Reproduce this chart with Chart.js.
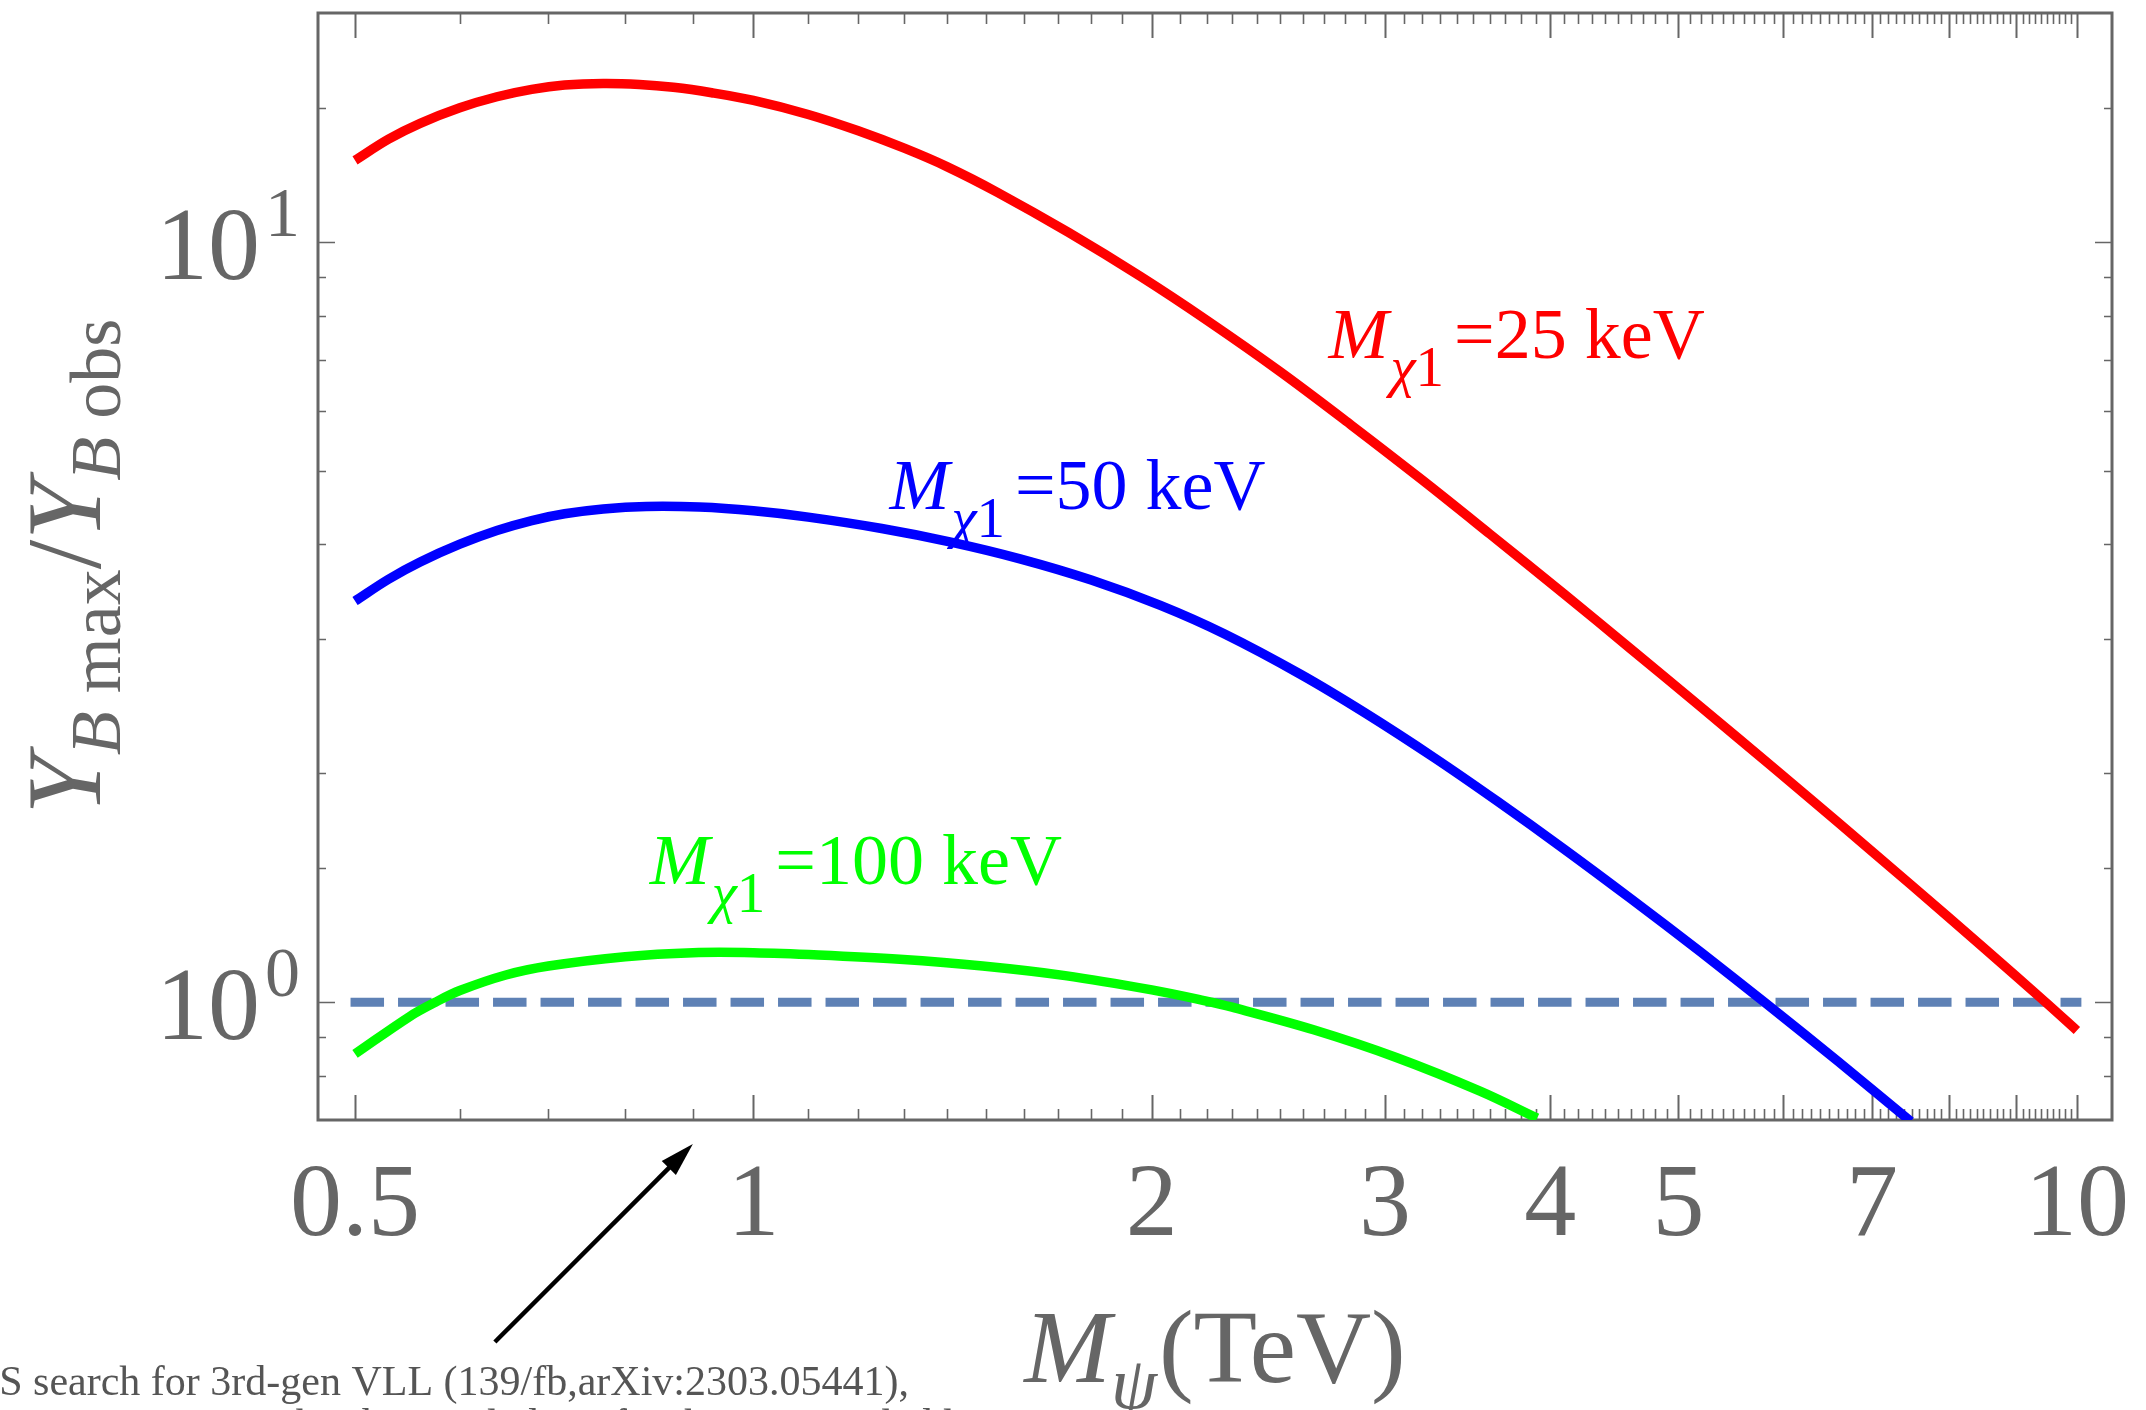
<!DOCTYPE html>
<html>
<head>
<meta charset="utf-8">
<script src="https://cdn.jsdelivr.net/npm/chart.js@4.4.1/dist/chart.umd.min.js"></script>
<style>
  html, body { margin: 0; padding: 0; background: #fff; }
  canvas { display: block; }
</style>
</head>
<body>
<canvas id="c" width="2146" height="1410"></canvas>
<script>
/* ── Data (x in TeV, y = Y_B max / Y_B obs) ── */
const redX   = [0.5, 0.53, 0.56, 0.6, 0.64, 0.68, 0.72, 0.77, 0.82, 0.87, 0.93, 1.0, 1.1, 1.2, 1.3, 1.4, 1.53, 1.73, 1.96, 2.2, 2.5, 2.83, 3.2, 3.6, 4.1, 4.6, 5.2, 5.9, 6.6, 7.5, 8.5, 9.47, 10];
const redY   = [12.8, 13.65, 14.32, 15.01, 15.52, 15.87, 16.08, 16.16, 16.11, 15.97, 15.71, 15.35, 14.71, 14.0, 13.28, 12.56, 11.61, 10.29, 9.01, 7.89, 6.75, 5.74, 4.865, 4.13, 3.44, 2.917, 2.444, 2.033, 1.724, 1.425, 1.18, 1.0, 0.918];

const blueX  = [0.5, 0.53, 0.56, 0.6, 0.64, 0.68, 0.72, 0.77, 0.83, 0.91, 1.0, 1.1, 1.25, 1.41, 1.59, 1.8, 2.03, 2.27, 2.59, 2.9, 3.27, 3.65, 4.1, 4.6, 5.2, 5.82, 6.6, 7.49];
const blueY  = [3.37, 3.6, 3.793, 4.003, 4.172, 4.3, 4.389, 4.454, 4.487, 4.479, 4.429, 4.345, 4.198, 4.029, 3.83, 3.592, 3.326, 3.05, 2.70, 2.40, 2.096, 1.837, 1.589, 1.369, 1.163, 0.997, 0.836, 0.697];

const greenX = [0.5, 0.55, 0.575, 0.6, 0.65, 0.7, 0.8, 0.9, 1.0, 1.12, 1.29, 1.49, 1.72, 2.0, 2.19, 2.3, 2.65, 3.06, 3.54, 3.91];
const greenY = [0.855, 0.958, 1.0, 1.036, 1.086, 1.116, 1.148, 1.162, 1.162, 1.154, 1.139, 1.116, 1.084, 1.038, 1.005, 0.985, 0.92, 0.846, 0.764, 0.704];

const refX   = [0.5, 10];
const refY   = [1, 1];

/* ── Axes ── */
const xMin = 0.4688, xMax = 10.63;
const yMin = 0.702,  yMax = 20.0;
const xMajorTicks   = [0.5, 1, 2, 3, 4, 5, 6, 7, 8, 9, 10];
const xTickLabels   = ['0.5', '1', '2', '3', '4', '5', '7', '10'];
const xTickLabelAt  = [0.5, 1, 2, 3, 4, 5, 7, 10];
const yMajorTicks   = [1, 10];
const yMinorTicks   = [0.8, 0.9, 1.5, 2, 3, 4, 5, 6, 7, 8, 9, 15];
const yTickExps     = ['0', '1'];

// minor x ticks: every 0.1 between the majors
const xMinorTicks = [0.6, 0.7, 0.8, 0.9];
for (let k = 1; k < 10; k++) for (let j = 1; j < 10; j++) xMinorTicks.push(+(k + j / 10).toFixed(1));

/* ── Curve labels (anchored in data space: left edge of "M", baseline) ── */
const curveLabels = [
  { x: 2.72,  y: 7.03, value: '25',  color: '#ff0000' },
  { x: 1.267, y: 4.46, value: '50',  color: '#0000ff' },
  { x: 0.835, y: 1.43, value: '100', color: '#00ff00' },
];

const SERIF = '"Liberation Serif", "Times New Roman", serif';
const GREY  = '#666666';

const toPoints = (xs, ys) => xs.map((x, i) => ({ x, y: ys[i] }));

/* text runs: pieces drawn left→right on one baseline */
function runWidth(ctx, parts) {
  let w = 0;
  for (const p of parts) {
    ctx.font = (p.italic ? 'italic ' : '') + p.size + 'px ' + SERIF;
    w += ctx.measureText(p.text).width + (p.gap || 0);
  }
  return w;
}
function drawRun(ctx, parts, x, y) {
  let cx = x;
  for (const p of parts) {
    ctx.font = (p.italic ? 'italic ' : '') + p.size + 'px ' + SERIF;
    ctx.fillText(p.text, cx, y + (p.dy || 0));
    cx += ctx.measureText(p.text).width + (p.gap || 0);
  }
}

/* ── Mathematica-style frame: inward ticks on all four sides ── */
const framePlugin = {
  id: 'mmaFrame',
  beforeDraw(chart) {
    const { ctx, width, height } = chart;
    ctx.save();
    ctx.fillStyle = '#fff';
    ctx.fillRect(0, 0, width, height);
    ctx.restore();
  },
  beforeDatasetsDraw(chart) {
    const { ctx, chartArea: a, scales: { x, y } } = chart;
    ctx.save();
    ctx.strokeStyle = GREY;

    const xTick = (v, len, lw) => {
      const px = Math.round(x.getPixelForValue(v)) + 0.5;
      ctx.lineWidth = lw;
      ctx.beginPath();
      ctx.moveTo(px, a.bottom); ctx.lineTo(px, a.bottom - len);
      ctx.moveTo(px, a.top);    ctx.lineTo(px, a.top + len);
      ctx.stroke();
    };
    const yTick = (v, len, lw) => {
      const py = Math.round(y.getPixelForValue(v)) + 0.5;
      ctx.lineWidth = lw;
      ctx.beginPath();
      ctx.moveTo(a.left, py);  ctx.lineTo(a.left + len, py);
      ctx.moveTo(a.right, py); ctx.lineTo(a.right - len, py);
      ctx.stroke();
    };
    xMinorTicks.forEach(v => xTick(v, 11, 1.6));
    xMajorTicks.forEach(v => xTick(v, 25, 2));
    yMinorTicks.forEach(v => yTick(v, 8, 1.4));
    yMajorTicks.forEach(v => yTick(v, 17, 1.6));

    ctx.lineWidth = 3;
    ctx.strokeRect(a.left, a.top, a.right - a.left, a.bottom - a.top);
    ctx.restore();
  },
  afterDraw(chart) {
    const { ctx, chartArea: a, scales: { x, y } } = chart;
    ctx.save();
    ctx.textBaseline = 'alphabetic';

    // x tick labels
    ctx.fillStyle = GREY;
    ctx.textAlign = 'center';
    ctx.font = '104px ' + SERIF;
    xTickLabels.forEach((t, i) => ctx.fillText(t, x.getPixelForValue(xTickLabelAt[i]), 1235));

    // y tick labels 10^n
    yMajorTicks.forEach((v, i) => {
      const py = y.getPixelForValue(v);
      ctx.textAlign = 'right';
      ctx.font = '104px ' + SERIF;
      ctx.fillText('10', 260, py + 37);
      ctx.textAlign = 'left';
      ctx.font = '70px ' + SERIF;
      ctx.fillText(yTickExps[i], 265, py - 6);
    });

    // x axis title
    ctx.textAlign = 'left';
    const xTitle = [
      { text: 'M', size: 104, italic: true },
      { text: 'ψ', size: 74, italic: true, dy: 26, gap: 2 },
      { text: '(TeV)', size: 104 },
    ];
    const cx = (a.left + a.right) / 2;
    drawRun(ctx, xTitle, cx - runWidth(ctx, xTitle) / 2, 1382);

    // y axis title (rotated)
    const yTitle = [
      { text: 'Y', size: 106, italic: true },
      { text: 'B', size: 72, italic: true, dy: 20 },
      { text: ' max', size: 72, dy: 20 },
      { text: '/', size: 106 },
      { text: 'Y', size: 106, italic: true },
      { text: 'B', size: 72, italic: true, dy: 20 },
      { text: ' obs', size: 72, dy: 20 },
    ];
    ctx.save();
    ctx.translate(100, (a.top + a.bottom) / 2);
    ctx.rotate(-Math.PI / 2);
    drawRun(ctx, yTitle, -runWidth(ctx, yTitle) / 2, 0);
    ctx.restore();

    // curve labels
    curveLabels.forEach(l => {
      ctx.fillStyle = l.color;
      drawRun(ctx, [
        { text: 'M', size: 72, italic: true, gap: 2 },
        { text: 'χ', size: 57, italic: true, dy: 28 },
        { text: '1', size: 57, dy: 28, gap: 10 },
        { text: '=' + l.value + ' keV', size: 72 },
      ], x.getPixelForValue(l.x), y.getPixelForValue(l.y));
    });

    // annotation: arrow pointing at 0.9 TeV below the frame
    const tipX = x.getPixelForValue(0.9), tipY = a.bottom + 24;
    const len = 280, ang = Math.PI / 4;
    const tailX = tipX - len * Math.cos(ang), tailY = tipY + len * Math.sin(ang);
    ctx.strokeStyle = '#000';
    ctx.fillStyle = '#000';
    ctx.lineWidth = 4.5;
    ctx.beginPath();
    ctx.moveTo(tailX, tailY);
    ctx.lineTo(tipX - 20 * Math.cos(ang), tipY + 20 * Math.sin(ang));
    ctx.stroke();
    const hl = 34, hw = 10;
    const bx = tipX - hl * Math.cos(ang), by = tipY + hl * Math.sin(ang);
    ctx.beginPath();
    ctx.moveTo(tipX, tipY);
    ctx.lineTo(bx - hw * Math.sin(ang), by - hw * Math.cos(ang));
    ctx.lineTo(bx + hw * Math.sin(ang), by + hw * Math.cos(ang));
    ctx.closePath();
    ctx.fill();

    ctx.fillStyle = '#555';
    ctx.font = '42px ' + SERIF;
    ctx.textAlign = 'right';
    ctx.fillText('ATLAS search for 3rd-gen VLL (139/fb,arXiv:2303.05441),', 909, 1395);
    ctx.textAlign = 'left';
    ctx.fillText('M  < 900 GeV has been ruled out for the tau-coupled leptons', 40, 1438);

    ctx.restore();
  },
};

const lineStyle = {
  borderWidth: 9.5,
  pointRadius: 0,
  pointHoverRadius: 0,
  fill: false,
  tension: 0.35,
  clip: 0,
};

new Chart(document.getElementById('c').getContext('2d'), {
  type: 'line',
  data: {
    datasets: [
      { ...lineStyle, label: 'M_χ1 = 25 keV',  data: toPoints(redX, redY),     borderColor: '#ff0000' },
      { ...lineStyle, label: 'M_χ1 = 50 keV',  data: toPoints(blueX, blueY),   borderColor: '#0000ff' },
      { ...lineStyle, label: 'M_χ1 = 100 keV', data: toPoints(greenX, greenY), borderColor: '#00ff00' },
      {
        label: 'observed',
        data: toPoints(refX, refY),
        borderColor: '#5e81b5',
        borderWidth: 9,
        borderDash: [24.5, 23],
        borderCapStyle: 'square',
        pointRadius: 0,
        fill: false,
        clip: false,
      },
    ],
  },
  options: {
    responsive: false,
    devicePixelRatio: 1,
    animation: false,
    layout: { padding: { left: 318, right: 34, top: 13, bottom: 290 } },
    plugins: { legend: { display: false }, tooltip: { enabled: false } },
    scales: {
      x: { type: 'logarithmic', min: xMin, max: xMax, display: false },
      y: { type: 'logarithmic', min: yMin, max: yMax, display: false },
    },
  },
  plugins: [framePlugin],
});
</script>
</body>
</html>
